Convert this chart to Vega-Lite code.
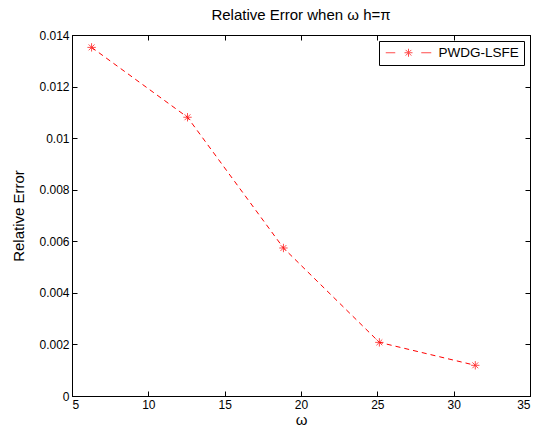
{
  "$schema": "https://vega.github.io/schema/vega-lite/v6.json",
  "width": 458,
  "height": 361,
  "autosize": "none",
  "padding": {"left": 72, "top": 35, "right": 12, "bottom": 34},
  "background": "white",
  "config": {
    "font": "Liberation Sans",
    "view": {"stroke": "black", "strokeWidth": 1},
    "axis": {
      "grid": false,
      "domainColor": "black",
      "tickColor": "black",
      "labelColor": "black",
      "titleColor": "black",
      "labelFontSize": 12,
      "titleFontSize": 15,
      "titleFontWeight": "normal",
      "tickSize": -5,
      "domainWidth": 1
    }
  },
  "title": {"text": "Relative Error when ω h=π", "fontSize": 15, "fontWeight": "normal", "color": "black", "offset": 6},
  "data": {"values": [
    {"omega": 6.2832, "err": 0.01352, "series": "PWDG-LSFE"},
    {"omega": 12.566, "err": 0.01081, "series": "PWDG-LSFE"},
    {"omega": 18.850, "err": 0.00574, "series": "PWDG-LSFE"},
    {"omega": 25.133, "err": 0.00208, "series": "PWDG-LSFE"},
    {"omega": 31.416, "err": 0.00119, "series": "PWDG-LSFE"}
  ]},
  "layer": [
    {
      "mark": {"type": "line", "color": "red", "strokeDash": [5, 4], "strokeWidth": 1},
      "encoding": {
        "x": {"field": "omega", "type": "quantitative", "scale": {"domain": [5, 35], "nice": false}, "title": "ω",
              "axis": {"values": [5, 10, 15, 20, 25, 30, 35], "labelPadding": 8, "titlePadding": 2}},
        "y": {"field": "err", "type": "quantitative", "scale": {"domain": [0, 0.014], "nice": false}, "title": "Relative Error",
              "axis": {"values": [0, 0.002, 0.004, 0.006, 0.008, 0.01, 0.012, 0.014], "format": "~g", "labelPadding": 8, "titlePadding": 12}}
      }
    },
    {
      "mark": {"type": "point", "filled": false, "strokeWidth": 1,
               "shape": "M-1,0L1,0M0,-1L0,1M-0.7,-0.7L0.7,0.7M-0.7,0.7L0.7,-0.7", "size": 70},
      "encoding": {
        "x": {"field": "omega", "type": "quantitative", "scale": {"domain": [5, 35], "nice": false}, "axis": null},
        "y": {"field": "err", "type": "quantitative", "scale": {"domain": [0, 0.014], "nice": false}, "axis": null},
        "color": {"field": "series", "type": "nominal", "scale": {"range": ["red"]},
                  "legend": {"title": null, "orient": "top-right", "offset": 6, "strokeColor": "black", "padding": 5,
                             "labelFontSize": 13.5, "labelColor": "black", "symbolSize": 100, "symbolStrokeWidth": 1,
                             "labelOffset": 41,
                             "symbolType": "M-1,0L0.9,0M6.1,0L8.1,0M2.75,0L4.35,0M3.55,-0.8L3.55,0.8M2.98,-0.57L4.12,0.57M2.98,0.57L4.12,-0.57",
                             "cornerRadius": 0, "fillColor": "white"}}
      }
    },
    {
      "mark": {"type": "point", "opacity": 0},
      "encoding": {
        "x": {"field": "omega", "type": "quantitative", "scale": {"domain": [5, 35], "nice": false},
              "axis": {"orient": "top", "labels": false, "title": null, "values": [5, 10, 15, 20, 25, 30, 35]}},
        "y": {"field": "err", "type": "quantitative", "scale": {"domain": [0, 0.014], "nice": false},
              "axis": {"orient": "right", "labels": false, "title": null, "values": [0, 0.002, 0.004, 0.006, 0.008, 0.01, 0.012, 0.014]}}
      }
    }
  ],
  "resolve": {"axis": {"x": "independent", "y": "independent"}}
}
